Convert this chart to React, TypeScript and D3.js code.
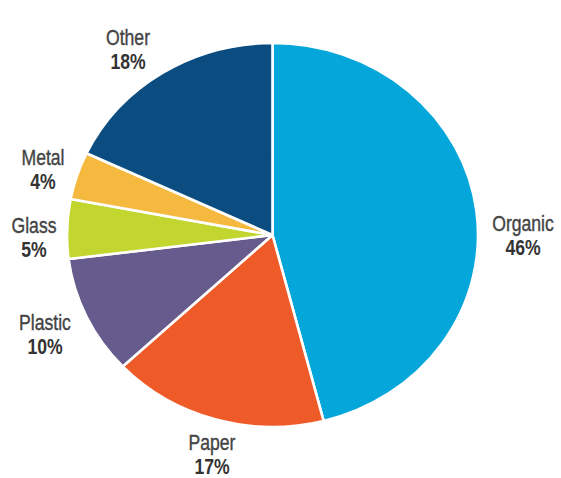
import React from "react";
import * as d3 from "d3";

const categories = ["Organic", "Paper", "Plastic", "Glass", "Metal", "Other"];
const values = [46, 17, 10, 5, 4, 18];
const colors = ["#05a6da", "#ef5a29", "#655b8d", "#c3d62f", "#f5b940", "#0b4d80"];
// label anchors (layout only)
const labelAnchors: [number, number][] = [
  [523, 231],
  [212, 450],
  [45, 330],
  [34, 233],
  [43, 165],
  [128, 45],
];

const W = 561;
const H = 478;
const CX = 272.5;
const CY = 235;
const R = 192;
const SX = 205.5 / 192;

export default function App() {
  const pie = d3
    .pie<number>()
    .sort(null)
    .value((d) => d)
    .startAngle(0)
    .endAngle(2 * Math.PI);
  const arcs = pie(values);
  const arc = d3.arc<d3.PieArcDatum<number>>().innerRadius(0).outerRadius(R);

  return (
    <svg
      width={W}
      height={H}
      viewBox={`0 0 ${W} ${H}`}
      style={{ position: "absolute", left: 0, top: 0, display: "block", background: "#fff" }}
    >
      <rect width={W} height={H} fill="#fff" />
      <g transform={`translate(${CX},${CY}) scale(${SX},1)`}>
        {arcs.map((a, i) => (
          <path
            key={categories[i]}
            d={arc(a) || ""}
            fill={colors[i]}
            stroke="#fff"
            strokeWidth={2.6}
            strokeLinejoin="round"
            vectorEffect="non-scaling-stroke"
          />
        ))}
      </g>
      {arcs.map((a, i) => {
        const [x, y] = labelAnchors[i];
        return (
          <g
            key={"l" + categories[i]}
            transform={`translate(${x},${y}) scale(0.8,1)`}
            fontFamily="'Liberation Sans', Arial, sans-serif"
            fill="#444"
            textAnchor="middle"
          >
            <text x={0} y={0} fontSize={22} stroke="#444" strokeWidth={0.4}>
              {categories[i]}
            </text>
            <text x={0} y={24.5} fontSize={22} fontWeight="bold" fill="#333">
              {`${values[i]}%`}
            </text>
          </g>
        );
      })}
    </svg>
  );
}
